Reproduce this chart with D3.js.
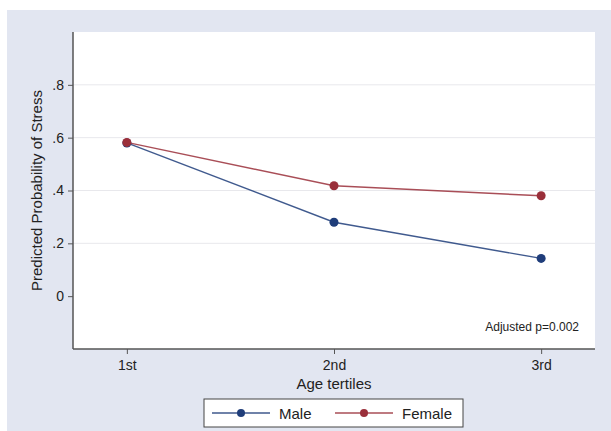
<!DOCTYPE html>
<html><head><meta charset="utf-8">
<script src="https://cdn.jsdelivr.net/npm/d3@7"></script>
<style>html,body{margin:0;padding:0;background:#fff;}svg{display:block;}</style>
</head><body>
<script>
const categories = ["1st", "2nd", "3rd"];
const maleValues = [0.58, 0.28, 0.143];
const femaleValues = [0.582, 0.418, 0.38];
const yTicks = [0, 0.2, 0.4, 0.6, 0.8];
const yTickLabels = ["0", ".2", ".4", ".6", ".8"];
const seriesNames = ["Male", "Female"];
const seriesColors = ["#1f3d7a", "#9a2f3a"];

const W = 611, H = 431;
const svg = d3.select("body").append("svg").attr("width", W).attr("height", H);
const font = "Liberation Sans, Arial, sans-serif";

svg.append("rect").attr("x", 7).attr("y", 10).attr("width", W - 7).attr("height", H - 10).attr("fill", "#e2e6f1");

const L = 73, R = 595, T = 32, B = 349;
svg.append("rect").attr("x", L).attr("y", T).attr("width", R - L).attr("height", B - T).attr("fill", "#fff");

const x = d3.scalePoint().domain(categories).range([L, R]).padding(0.26);
const y = d3.scaleLinear().domain([-0.2, 1.0]).range([B, T]);

// gridlines
svg.append("g").selectAll("line").data(yTicks.filter(d => d > 0)).join("line")
  .attr("x1", L).attr("x2", R).attr("y1", d => y(d)).attr("y2", d => y(d))
  .attr("stroke", "#e8e8ec").attr("stroke-width", 1);

// axes
const yAxis = d3.axisLeft(y).tickValues(yTicks).tickFormat((d, i) => yTickLabels[i]).tickSize(5).tickPadding(4);
const gy = svg.append("g").attr("transform", `translate(${L},0)`).call(yAxis);
gy.select(".domain").attr("d", `M0,${T}V${B}`).attr("stroke", "#555").attr("stroke-width", 1.5);
gy.selectAll(".tick line").attr("stroke", "#555");
gy.selectAll("text").attr("font-family", font).attr("font-size", 14).attr("fill", "#222");

const xAxis = d3.axisBottom(x).tickSize(5).tickPadding(6);
const gx = svg.append("g").attr("transform", `translate(0,${B})`).call(xAxis);
gx.select(".domain").attr("d", `M${L},0H${R}`).attr("stroke", "#555").attr("stroke-width", 1.5);
gx.selectAll(".tick line").attr("stroke", "#555");
gx.selectAll("text").attr("font-family", font).attr("font-size", 14).attr("fill", "#222");

// titles
svg.append("text").attr("x", x("2nd")).attr("y", 389).attr("text-anchor", "middle")
  .attr("font-family", font).attr("font-size", 15).attr("fill", "#222").text("Age tertiles");
svg.append("text").attr("transform", `translate(42,${(T + B) / 2}) rotate(-90)`).attr("text-anchor", "middle")
  .attr("font-family", font).attr("font-size", 15).attr("fill", "#222").text("Predicted Probability of Stress");

svg.append("text").attr("x", 579).attr("y", 331).attr("text-anchor", "end")
  .attr("font-family", font).attr("font-size", 12).attr("fill", "#222").text("Adjusted p=0.002");

// series
const data = [maleValues, femaleValues];
const line = d3.line().x((d, i) => x(categories[i])).y(d => y(d));
data.forEach((vals, s) => {
  svg.append("path").datum(vals).attr("d", line).attr("fill", "none")
    .attr("stroke", seriesColors[s]).attr("stroke-width", 1.4).attr("opacity", 0.85);
});
data.forEach((vals, s) => {
  svg.append("g").selectAll("circle").data(vals).join("circle")
    .attr("cx", (d, i) => x(categories[i])).attr("cy", d => y(d)).attr("r", 4.5)
    .attr("fill", seriesColors[s]);
});

// legend
const lg = svg.append("g");
lg.append("rect").attr("x", 204).attr("y", 399).attr("width", 259).attr("height", 28)
  .attr("fill", "#fff").attr("stroke", "#444").attr("stroke-width", 1);
const legX = [212, 335];
seriesNames.forEach((n, s) => {
  const lx = legX[s];
  lg.append("line").attr("x1", lx).attr("x2", lx + 58).attr("y1", 413).attr("y2", 413)
    .attr("stroke", seriesColors[s]).attr("stroke-width", 1.4).attr("opacity", 0.85);
  lg.append("circle").attr("cx", lx + 29).attr("cy", 413).attr("r", 4).attr("fill", seriesColors[s]);
  lg.append("text").attr("x", lx + 67).attr("y", 418.5).attr("font-family", font).attr("font-size", 15)
    .attr("fill", "#222").text(n);
});
</script>
</body></html>
